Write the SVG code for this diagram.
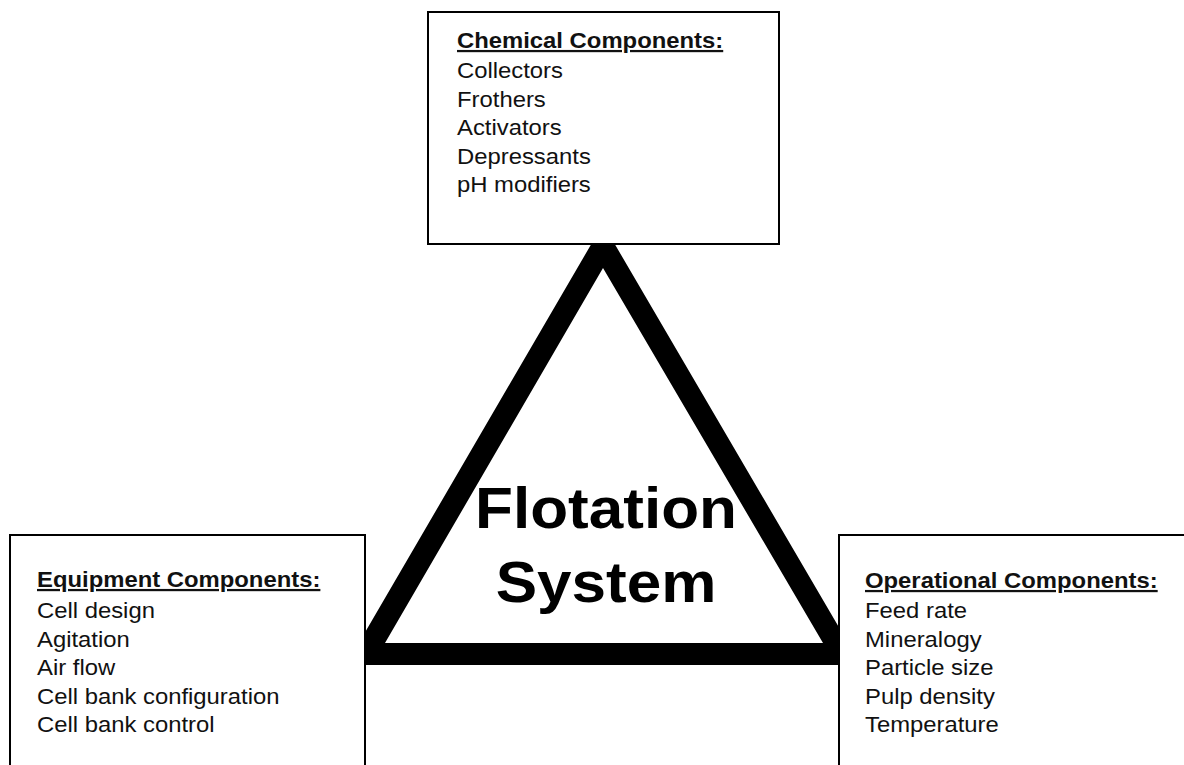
<svg xmlns="http://www.w3.org/2000/svg" width="1184" height="765" viewBox="0 0 1184 765">
<style>
.box{fill:#fff;stroke:#000;stroke-width:2}
.t{font-family:"Liberation Sans",Arial,sans-serif;font-size:22.5px;fill:#111}
.h{font-weight:bold;text-decoration:underline}
.big{font-family:"Liberation Sans",Arial,sans-serif;font-size:58px;font-weight:bold;fill:#000;text-anchor:middle}
</style>
<rect width="1184" height="765" fill="#fff"/>
<g id="connectors">
<path fill="#000" fill-rule="evenodd" d="M603,224 L346,665 L861,665 Z M603,268 L385,643 L823,643 Z"/>
</g>
<g id="chemical">
<rect class="box" x="428" y="12" width="351" height="232"/>
<g transform="translate(457,0) scale(1.06,1)">
<text class="t h" x="0" y="48">Chemical Components:</text>
<text class="t" x="0" y="78">Collectors</text>
<text class="t" x="0" y="107">Frothers</text>
<text class="t" x="0" y="135">Activators</text>
<text class="t" x="0" y="164">Depressants</text>
<text class="t" x="0" y="192">pH modifiers</text>
</g>
</g>
<g id="equipment">
<rect class="box" x="10" y="535" width="355" height="260"/>
<g transform="translate(37,0) scale(1.06,1)">
<text class="t h" x="0" y="587">Equipment Components:</text>
<text class="t" x="0" y="618">Cell design</text>
<text class="t" x="0" y="647">Agitation</text>
<text class="t" x="0" y="675">Air flow</text>
<text class="t" x="0" y="704">Cell bank configuration</text>
<text class="t" x="0" y="732">Cell bank control</text>
</g>
</g>
<g id="operational">
<rect class="box" x="839" y="535" width="360" height="260"/>
<g transform="translate(865,0) scale(1.06,1)">
<text class="t h" x="0" y="588">Operational Components:</text>
<text class="t" x="0" y="618">Feed rate</text>
<text class="t" x="0" y="647">Mineralogy</text>
<text class="t" x="0" y="675">Particle size</text>
<text class="t" x="0" y="704">Pulp density</text>
<text class="t" x="0" y="732">Temperature</text>
</g>
</g>
<g id="flotation">
<g transform="translate(606,0) scale(1.07,1)">
<text class="big" x="0" y="528">Flotation</text>
<text class="big" x="0" y="602">System</text>
</g>
</g>
</svg>
